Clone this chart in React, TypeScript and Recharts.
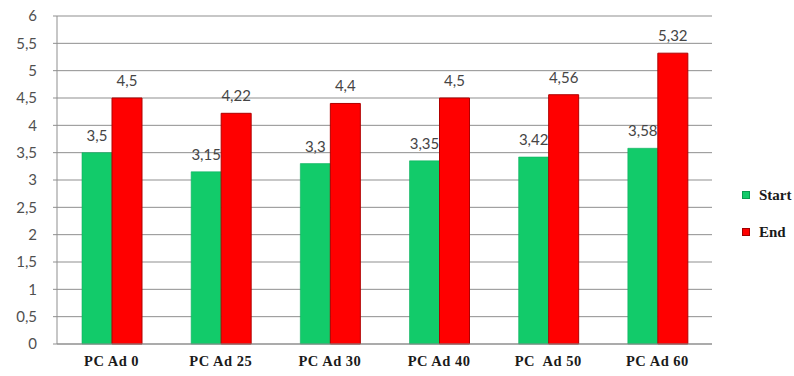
import React from "react";
import { BarChart, Bar, XAxis, YAxis, CartesianGrid, LabelList } from "recharts";

const categories = ["PC Ad 0", "PC Ad 25", "PC Ad 30", "PC Ad 40", "PC  Ad 50", "PC Ad 60"];
const startValues = [3.5, 3.15, 3.3, 3.35, 3.42, 3.58];
const endValues = [4.5, 4.22, 4.4, 4.5, 4.56, 5.32];
const yTicks = [0, 0.5, 1, 1.5, 2, 2.5, 3, 3.5, 4, 4.5, 5, 5.5, 6];
const seriesNames = ["Start", "End"];

const GREEN = "#12CB6A";
const RED = "#FF0000";
const GRID = "#8f8f8f";
const SERIF = "'Liberation Serif', 'Times New Roman', serif";
const SANS = "Lato, 'Noto Sans', sans-serif";

const data = categories.map((name, i) => ({ name, Start: startValues[i], End: endValues[i] }));

const comma = (v: number | string) => String(v).replace(".", ",");

const XTick = (props: any) => {
  const { x, y, payload } = props;
  return (
    <text
      x={x}
      y={y + 14}
      textAnchor="middle"
      fontFamily={SERIF}
      fontWeight="bold"
      fontSize={14.5}
      fill="#1a1a1a"
      letterSpacing={0.5}
      style={{ whiteSpace: "pre" }}
    >
      {payload.value}
    </text>
  );
};

const legendItems = [
  { label: seriesNames[0], color: GREEN, stroke: "#0a9a50" },
  { label: seriesNames[1], color: RED, stroke: "#a00000" },
];

export default function App() {
  return (
    <div style={{ position: "absolute", left: 0, top: 0, width: 794, height: 376, background: "#fff", overflow: "hidden" }}>
      <BarChart
        width={794}
        height={376}
        data={data}
        margin={{ top: 16, right: 82, left: 0, bottom: 1 }}
        barGap={0}
        barCategoryGap={48}
      >
        <CartesianGrid horizontal vertical={false} stroke={GRID} strokeWidth={1} />
        <XAxis
          dataKey="name"
          height={31}
          axisLine={{ stroke: GRID }}
          tickLine={false}
          tick={<XTick />}
          interval={0}
        />
        <YAxis
          width={57}
          domain={[0, 6]}
          ticks={yTicks}
          interval={0}
          tickFormatter={comma}
          axisLine={{ stroke: GRID }}
          tickLine={{ stroke: GRID }}
          tickSize={4}
          tickMargin={16}
          tick={{ fontFamily: SANS, fontSize: 15, fill: "#505050" }}
        />
        <Bar dataKey="Start" fill={GREEN} stroke="#0db060" strokeWidth={0.6} barSize={30} isAnimationActive={false}>
          <LabelList
            dataKey="Start"
            position="top"
            offset={12}
            formatter={comma}
            style={{ fontFamily: SANS, fontSize: 15, fill: "#454545" }}
          />
        </Bar>
        <Bar dataKey="End" fill={RED} stroke="#b00000" strokeWidth={1} barSize={30} isAnimationActive={false}>
          <LabelList
            dataKey="End"
            position="top"
            offset={12}
            formatter={comma}
            style={{ fontFamily: SANS, fontSize: 15, fill: "#454545" }}
          />
        </Bar>
      </BarChart>
      <div
        style={{
          position: "absolute",
          left: 742,
          top: 185,
          fontFamily: SERIF,
          fontWeight: "bold",
          fontSize: 15,
          color: "#1a1a1a",
        }}
      >
        {legendItems.map((item, i) => (
          <div
            key={item.label}
            style={{ display: "flex", alignItems: "center", height: 20, marginBottom: i === 0 ? 17 : 0, whiteSpace: "nowrap" }}
          >
            <span
              style={{
                display: "inline-block",
                width: 6,
                height: 6,
                background: item.color,
                border: `1px solid ${item.stroke}`,
                marginRight: 9,
              }}
            />
            {item.label}
          </div>
        ))}
      </div>
    </div>
  );
}
